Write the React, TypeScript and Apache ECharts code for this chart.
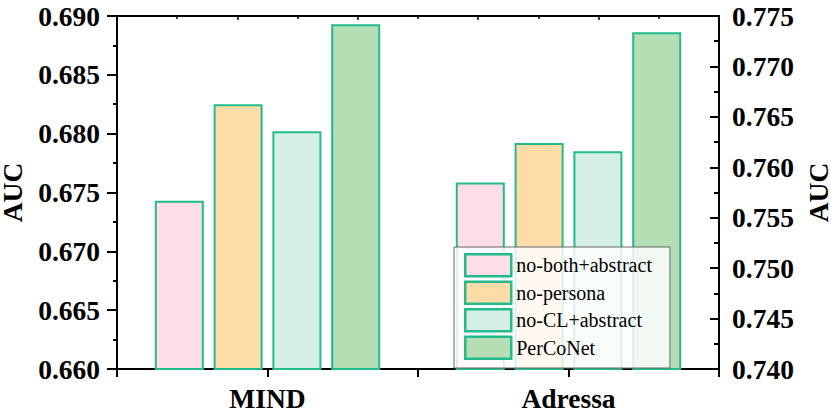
import React, { useEffect, useRef } from "react";
import * as echarts from "echarts";

const categories = ["MIND", "Adressa"];
const seriesNames = ["no-both+abstract", "no-persona", "no-CL+abstract", "PerCoNet"];
const mindValues = [0.6743, 0.6825, 0.6802, 0.6893];
const adressaValues = [0.7585, 0.7624, 0.7616, 0.7734];
const leftTicks = { min: 0.66, max: 0.69, interval: 0.005 };
const rightTicks = { min: 0.74, max: 0.775, interval: 0.005 };
const fills = ["#FFDDE6", "#FDDCA8", "#D6EFE6", "#B5DEB5"];
const edge = "#22BB8B";
const font = "Liberation Serif";

export default function App() {
  const ref = useRef<HTMLDivElement>(null);
  useEffect(() => {
    if (!ref.current) return;
    const chart = echarts.init(ref.current, undefined, { renderer: "svg" });
    const barCommon = (i: number) => ({
      type: "bar" as const,
      name: seriesNames[i],
      barWidth: 49,
      barGap: "20%",
      itemStyle: { color: fills[i], borderColor: edge, borderWidth: 2 },
    });
    const series: any[] = [];
    seriesNames.forEach((_, i) => {
      series.push({ ...barCommon(i), xAxisIndex: 0, yAxisIndex: 0, data: [mindValues[i], "-"] });
    });
    seriesNames.forEach((_, i) => {
      series.push({ ...barCommon(i), xAxisIndex: 1, yAxisIndex: 1, data: ["-", adressaValues[i]] });
    });
    const axisLine = { show: true, lineStyle: { color: "#000", width: 2 } };
    const tickLabel = {
      fontFamily: font,
      fontWeight: "bold" as const,
      fontSize: 27.5,
      color: "#000",
    };
    chart.setOption({
      animation: false,
      backgroundColor: "#fff",
      textStyle: { fontFamily: font },
      grid: {
        left: 117,
        right: 112,
        top: 16,
        bottom: 46,
        containLabel: false,
        outerBoundsMode: "none",
      },
      legend: {
        data: seriesNames,
        orient: "vertical",
        left: 454,
        top: 247,
        itemWidth: 46,
        itemHeight: 22,
        itemGap: 3,
        padding: [6, 18, 8, 10],
        backgroundColor: "rgba(255,255,255,0.82)",
        borderColor: "#666",
        borderWidth: 1,
        icon: "rect",
        itemStyle: { borderColor: edge, borderWidth: 2.5 },
        textStyle: { fontFamily: font, fontSize: 20, color: "#000" },
      },
      xAxis: [
        {
          type: "category",
          position: "bottom",
          data: categories,
          axisLine,
          axisTick: { show: true, length: 8, lineStyle: { color: "#000", width: 2 } },
          axisLabel: { ...tickLabel, margin: 15 },
          splitLine: { show: false },
        },
        {
          type: "category",
          position: "bottom",
          data: categories,
          axisLine: { show: false },
          axisTick: { show: true, alignWithLabel: true, length: 8, lineStyle: { color: "#000", width: 2 } },
          axisLabel: { show: false },
          splitLine: { show: false },
        },
        {
          type: "value",
          position: "top",
          min: 0,
          max: 10,
          interval: 2,
          axisLine,
          axisTick: { show: true, inside: true, length: 4, lineStyle: { color: "#000", width: 1.5 } },
          minorTick: { show: true, splitNumber: 2, length: 3, lineStyle: { color: "#000", width: 1.5 } },
          axisLabel: { show: false },
          splitLine: { show: false },
        },
      ],
      yAxis: [
        {
          type: "value",
          position: "left",
          min: leftTicks.min,
          max: leftTicks.max,
          interval: leftTicks.interval,
          name: "AUC",
          nameLocation: "middle",
          nameGap: 91,
          nameMoveOverlap: false,
          nameTextStyle: { ...tickLabel },
          axisLine,
          axisTick: { show: true, length: 10, lineStyle: { color: "#000", width: 2 } },
          minorTick: { show: true, splitNumber: 2, length: 4, lineStyle: { color: "#000", width: 2 } },
          axisLabel: { ...tickLabel, margin: 17, formatter: (v: number) => v.toFixed(3) },
          splitLine: { show: false },
        },
        {
          type: "value",
          position: "right",
          min: rightTicks.min,
          max: rightTicks.max,
          interval: rightTicks.interval,
          name: "AUC",
          nameLocation: "middle",
          nameGap: 85,
          nameMoveOverlap: false,
          nameRotate: 90,
          nameTextStyle: { ...tickLabel },
          axisLine,
          axisTick: { show: true, inside: true, length: 9, lineStyle: { color: "#000", width: 2 } },
          minorTick: { show: true, splitNumber: 2, length: 5, lineStyle: { color: "#000", width: 2 } },
          axisLabel: { ...tickLabel, margin: 13, formatter: (v: number) => v.toFixed(3) },
          splitLine: { show: false },
        },
      ],
      series,
    });
    return () => chart.dispose();
  }, []);
  return (
    <div
      ref={ref}
      style={{ position: "fixed", left: 0, top: 0, width: 831, height: 415 }}
    />
  );
}
